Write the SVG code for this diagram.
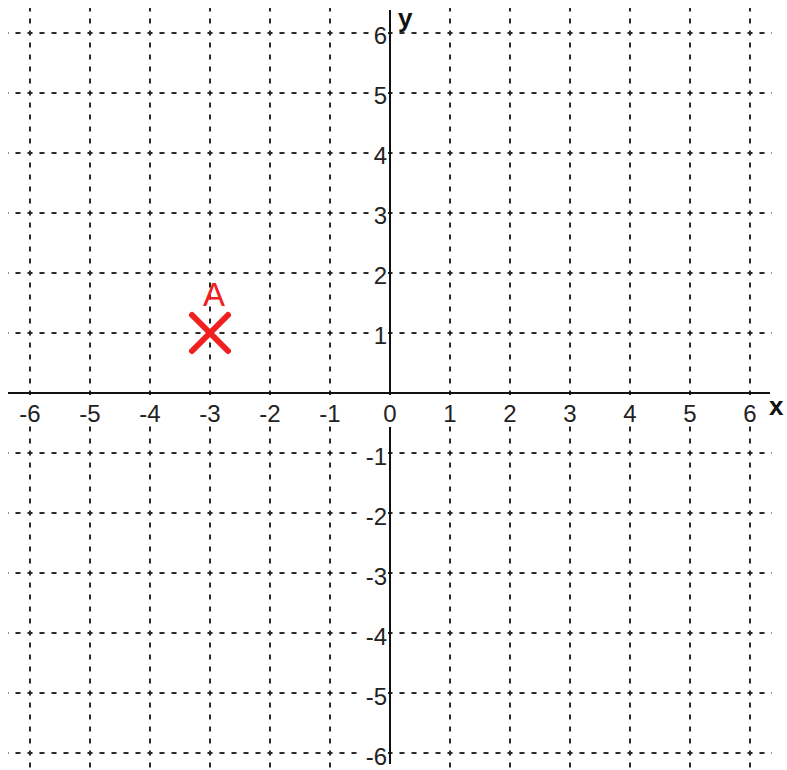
<svg xmlns="http://www.w3.org/2000/svg" width="787" height="770" viewBox="0 0 787 770">
<style>
.gh{stroke:#2a2a2a;stroke-width:2;stroke-dasharray:5 7;stroke-dashoffset:4.5;fill:none}
.gv{stroke:#2a2a2a;stroke-width:2;stroke-dasharray:5 7;stroke-dashoffset:1.5;fill:none}
.ax{stroke:#111;stroke-width:2;fill:none}
.bx{fill:#fff}
.tx{font-family:"Liberation Sans",Arial,sans-serif;font-size:24px;fill:#222;text-anchor:middle}
.ty{font-family:"Liberation Sans",Arial,sans-serif;font-size:24px;fill:#222;text-anchor:end}
.al{font-family:"Liberation Sans",Arial,sans-serif;font-size:26px;font-weight:bold;fill:#111}
.mk{stroke:#f02020;stroke-width:6;stroke-linecap:round}
.pl{font-family:"Liberation Sans",Arial,sans-serif;font-size:33px;fill:#f02020;text-anchor:middle}
</style>
<rect width="787" height="770" fill="#fff"/>
<g id="grid">
<path class="gh" d="M8 33H772M8 93H772M8 153H772M8 213H772M8 273H772M8 333H772M8 453H772M8 513H772M8 573H772M8 633H772M8 693H772M8 753H772"/>
<path class="gv" d="M30 8V770M90 8V770M150 8V770M210 8V770M270 8V770M330 8V770M450 8V770M510 8V770M570 8V770M630 8V770M690 8V770M750 8V770"/>
</g>
<g id="axes">
<line class="ax" x1="8" y1="393" x2="770" y2="393"/>
<line class="ax" x1="390" y1="10" x2="390" y2="764"/>
<text class="al" x="398" y="27">y</text>
<text class="al" x="769" y="415">x</text>
</g>
<g id="x-labels">
<rect class="bx" x="16" y="395" width="27" height="31"/>
<rect class="bx" x="76" y="395" width="27" height="31"/>
<rect class="bx" x="136" y="395" width="27" height="31"/>
<rect class="bx" x="196" y="395" width="27" height="31"/>
<rect class="bx" x="256" y="395" width="27" height="31"/>
<rect class="bx" x="316" y="395" width="27" height="31"/>
<rect class="bx" x="382" y="395" width="16" height="32"/>
<rect class="bx" x="442" y="395" width="16" height="31"/>
<rect class="bx" x="502" y="395" width="16" height="31"/>
<rect class="bx" x="562" y="395" width="16" height="31"/>
<rect class="bx" x="622" y="395" width="16" height="31"/>
<rect class="bx" x="682" y="395" width="16" height="31"/>
<rect class="bx" x="742" y="395" width="16" height="31"/>
<text class="tx" x="30" y="422">-6</text>
<text class="tx" x="90" y="422">-5</text>
<text class="tx" x="150" y="422">-4</text>
<text class="tx" x="210" y="422">-3</text>
<text class="tx" x="270" y="422">-2</text>
<text class="tx" x="330" y="422">-1</text>
<text class="tx" x="390" y="422">0</text>
<text class="tx" x="450" y="422">1</text>
<text class="tx" x="510" y="422">2</text>
<text class="tx" x="570" y="422">3</text>
<text class="tx" x="630" y="422">4</text>
<text class="tx" x="690" y="422">5</text>
<text class="tx" x="750" y="422">6</text>
</g>
<g id="y-labels">
<rect class="bx" x="372" y="26" width="16" height="21"/>
<rect class="bx" x="372" y="86" width="16" height="21"/>
<rect class="bx" x="372" y="146" width="16" height="21"/>
<rect class="bx" x="372" y="206" width="16" height="21"/>
<rect class="bx" x="372" y="266" width="16" height="21"/>
<rect class="bx" x="372" y="326" width="16" height="21"/>
<rect class="bx" x="362" y="446" width="26" height="21"/>
<rect class="bx" x="362" y="506" width="26" height="21"/>
<rect class="bx" x="362" y="566" width="26" height="21"/>
<rect class="bx" x="362" y="626" width="26" height="21"/>
<rect class="bx" x="362" y="686" width="26" height="21"/>
<rect class="bx" x="362" y="746" width="26" height="21"/>
<text class="ty" x="387" y="44">6</text>
<text class="ty" x="387" y="104">5</text>
<text class="ty" x="387" y="164">4</text>
<text class="ty" x="387" y="224">3</text>
<text class="ty" x="387" y="284">2</text>
<text class="ty" x="387" y="344">1</text>
<text class="ty" x="387" y="465">-1</text>
<text class="ty" x="387" y="525">-2</text>
<text class="ty" x="387" y="585">-3</text>
<text class="ty" x="387" y="645">-4</text>
<text class="ty" x="387" y="705">-5</text>
<text class="ty" x="387" y="765">-6</text>
</g>
<g id="point-A">
<line class="mk" x1="192" y1="315" x2="228" y2="351"/>
<line class="mk" x1="228" y1="315" x2="192" y2="351"/>
<text class="pl" x="214" y="306">A</text>
</g>
</svg>
